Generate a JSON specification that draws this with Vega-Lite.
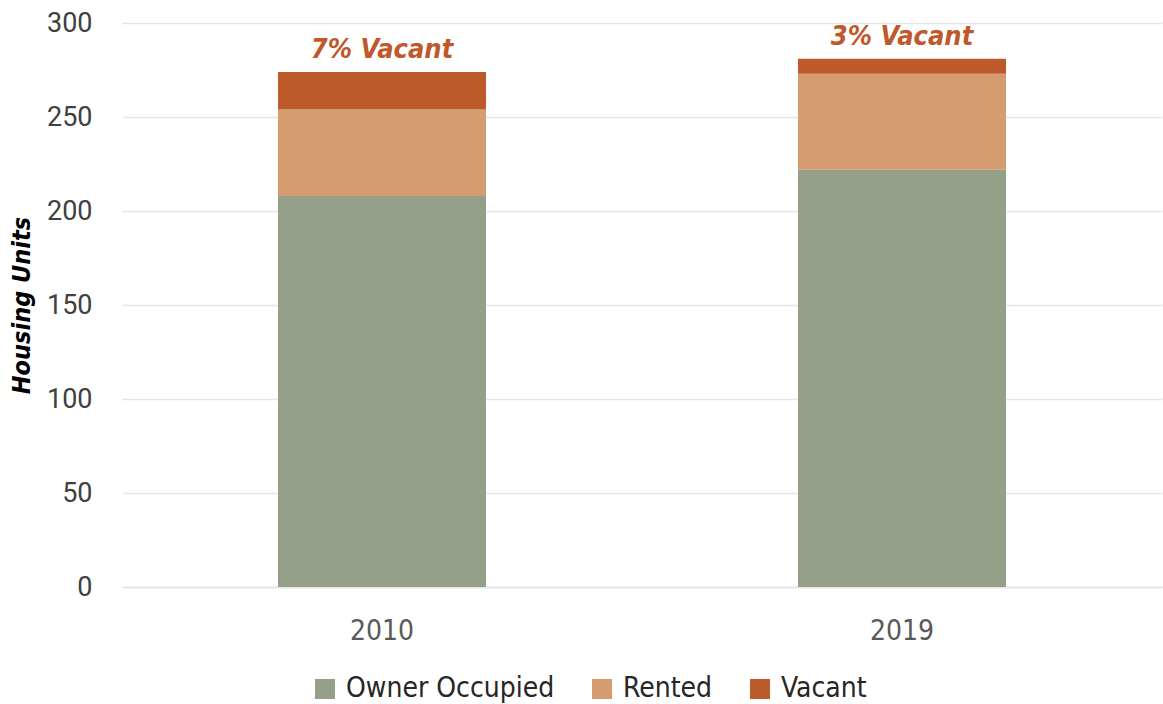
{
  "$schema": "https://vega.github.io/schema/vega-lite/v6.json",
  "width": 1040,
  "height": 564,
  "autosize": {"type": "none"},
  "padding": {"left": 122, "top": 23, "right": 1, "bottom": 117},
  "background": "white",
  "config": {
    "view": {"stroke": null},
    "font": "Roboto"
  },
  "datasets": {
    "units": [
      {"year": "2010", "category": "Owner Occupied", "rank": 1, "units": 208},
      {"year": "2010", "category": "Rented", "rank": 2, "units": 46},
      {"year": "2010", "category": "Vacant", "rank": 3, "units": 20},
      {"year": "2019", "category": "Owner Occupied", "rank": 1, "units": 222},
      {"year": "2019", "category": "Rented", "rank": 2, "units": 51},
      {"year": "2019", "category": "Vacant", "rank": 3, "units": 8}
    ],
    "labels": [
      {"year": "2010", "total": 274, "label": "7% Vacant"},
      {"year": "2019", "total": 281, "label": "3% Vacant"}
    ]
  },
  "layer": [
    {
      "data": {"name": "units"},
      "mark": {"type": "bar"},
      "encoding": {
        "x": {
          "field": "year",
          "type": "nominal",
          "scale": {"paddingInner": 0.6, "paddingOuter": 0.3},
          "axis": {
            "title": null,
            "labelAngle": 0,
            "labelFont": "'DejaVu Sans Condensed', 'Liberation Sans Narrow', sans-serif",
            "labelFontSize": 28,
            "labelColor": "#595959",
            "labelPadding": 30,
            "ticks": false,
            "domain": true,
            "domainColor": "#e3e3e3",
            "domainWidth": 1.5
          }
        },
        "y": {
          "field": "units",
          "type": "quantitative",
          "stack": "zero",
          "scale": {"domain": [0, 300]},
          "axis": {
            "values": [0, 50, 100, 150, 200, 250, 300],
            "title": "Housing Units",
            "titleFont": "'DejaVu Sans Condensed', 'Liberation Sans Narrow', sans-serif",
            "titleFontSize": 25,
            "titleFontStyle": "italic",
            "titleFontWeight": "bold",
            "titleColor": "#000000",
            "titlePadding": 12,
            "labelFont": "Roboto",
            "labelFontSize": 27,
            "labelColor": "#404040",
            "labelPadding": 30,
            "ticks": false,
            "domain": false,
            "grid": true,
            "gridColor": "#e6e6e6",
            "gridWidth": 1.5
          }
        },
        "color": {
          "field": "category",
          "type": "nominal",
          "scale": {
            "domain": ["Owner Occupied", "Rented", "Vacant"],
            "range": ["#95a088", "#d49c6f", "#bc5a2a"]
          },
          "legend": {
            "title": null,
            "orient": "none",
            "direction": "horizontal",
            "legendX": 189,
            "legendY": 652,
            "symbolType": "square",
            "symbolSize": 400,
            "symbolStrokeWidth": 0,
            "labelFont": "'DejaVu Sans Condensed', 'Liberation Sans Narrow', sans-serif",
            "labelFontSize": 28,
            "labelColor": "#262626",
            "labelOffset": 7,
            "columnPadding": 33,
            "labelLimit": 400
          }
        },
        "order": {"field": "rank", "type": "quantitative"}
      }
    },
    {
      "data": {"name": "labels"},
      "mark": {
        "type": "text",
        "baseline": "bottom",
        "dy": -8,
        "font": "'DejaVu Sans Condensed', 'Liberation Sans Narrow', sans-serif",
        "fontSize": 27,
        "fontStyle": "italic",
        "fontWeight": "bold",
        "color": "#c0582b"
      },
      "encoding": {
        "x": {"field": "year", "type": "nominal"},
        "y": {"field": "total", "type": "quantitative"},
        "text": {"field": "label"}
      }
    }
  ]
}
